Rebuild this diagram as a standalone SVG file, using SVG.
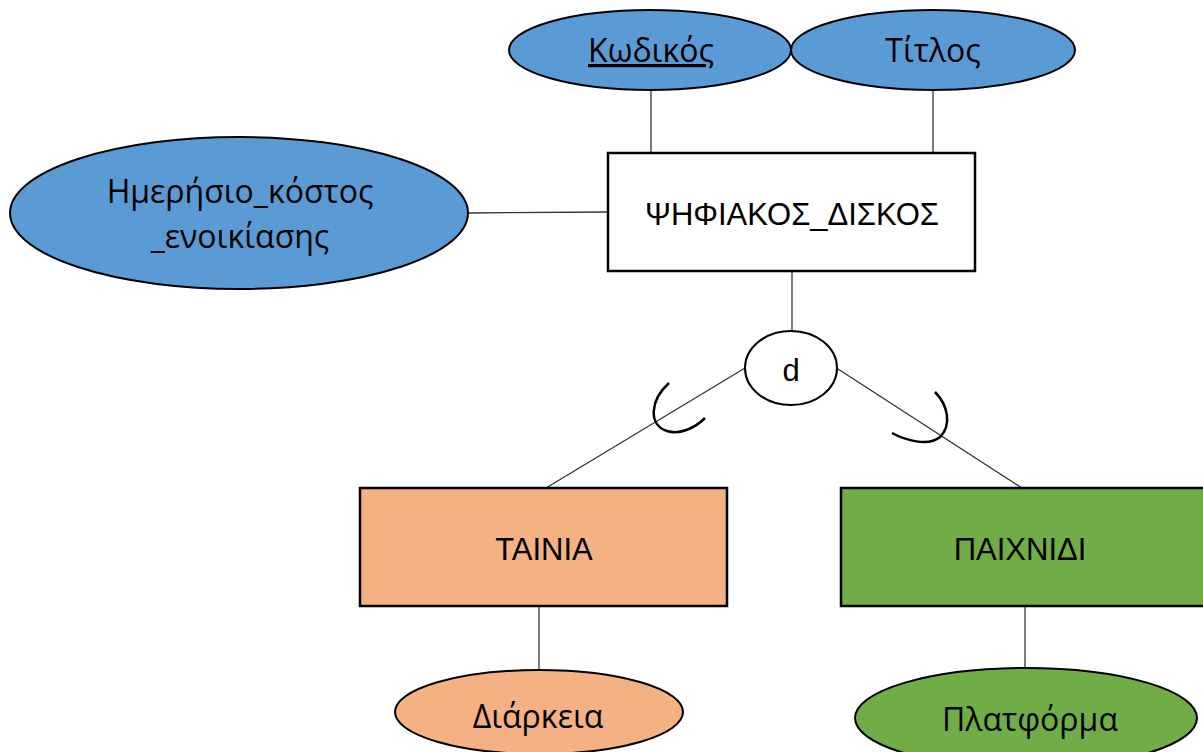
<svg xmlns="http://www.w3.org/2000/svg" width="1203" height="752" viewBox="0 0 1203 752">
<style>
.attr{stroke:#000;stroke-width:2}
.blue{fill:#5B9BD5}
.orange{fill:#F4B183}
.green{fill:#70AD47}
.ent{stroke:#000;stroke-width:2.5}
.ln{stroke:#333;stroke-width:1.3;fill:none}
.arc{stroke:#000;stroke-width:2.5;fill:none}
.t{font-family:"Open Sans","Noto Sans",sans-serif;font-size:32px;fill:#000;text-anchor:middle}
.e{font-family:"Liberation Sans",Arial,sans-serif;font-size:31px;fill:#000;text-anchor:middle}
</style>
<rect width="1203" height="752" fill="#fff"/>
<g id="connectors">
<line class="ln" x1="651" y1="90" x2="651" y2="153"/>
<line class="ln" x1="933" y1="90" x2="933" y2="153"/>
<line class="ln" x1="468" y1="213" x2="608" y2="212"/>
<line class="ln" x1="792" y1="271" x2="792" y2="331"/>
<line class="ln" x1="745" y1="368" x2="546" y2="488"/>
<line class="ln" x1="838" y1="369" x2="1022" y2="488"/>
<line class="ln" x1="539" y1="606" x2="539" y2="670"/>
<line class="ln" x1="1025" y1="606" x2="1025" y2="668"/>
<path class="arc" d="M669,383 C650,400 648,425 667,431 C680,435 695,428 705,418"/>
<path class="arc" d="M935,392 C948,405 952,425 940,437 C928,447 905,440 892,433"/>
</g>
<g id="kodikos">
<ellipse class="attr blue" cx="650" cy="50" rx="141" ry="40"/>
<text class="t" x="651" y="62" text-decoration="underline">Κωδικός</text>
</g>
<g id="titlos">
<ellipse class="attr blue" cx="933" cy="50" rx="142" ry="40"/>
<text class="t" x="933" y="62">Τίτλος</text>
</g>
<g id="imerisio">
<ellipse class="attr blue" cx="239" cy="213" rx="229" ry="76"/>
<text class="t" x="240" y="203">Ημερήσιο_κόστος</text>
<text class="t" x="240" y="248">_ενοικίασης</text>
</g>
<g id="psifiakos">
<rect class="ent" x="608" y="153" width="367" height="118" fill="#fff"/>
<text class="e" x="792" y="225">ΨΗΦΙΑΚΟΣ_ΔΙΣΚΟΣ</text>
</g>
<g id="d">
<ellipse cx="791" cy="368" rx="46" ry="37" fill="#fff" stroke="#000" stroke-width="2"/>
<text class="e" x="791" y="381" font-size="32">d</text>
</g>
<g id="tainia">
<rect class="ent orange" x="360" y="488" width="367" height="118"/>
<text class="e" x="544" y="560">ΤΑΙΝΙΑ</text>
</g>
<g id="paixnidi">
<rect class="ent green" x="841" y="488" width="370" height="118"/>
<text class="e" x="1020" y="560">ΠΑΙΧΝΙΔΙ</text>
</g>
<g id="diarkeia">
<ellipse class="attr orange" cx="539" cy="712" rx="144" ry="42"/>
<text class="t" x="538" y="728">Διάρκεια</text>
</g>
<g id="platforma">
<ellipse class="attr green" cx="1026" cy="718" rx="171" ry="50"/>
<text class="t" x="1030" y="731">Πλατφόρμα</text>
</g>
</svg>
